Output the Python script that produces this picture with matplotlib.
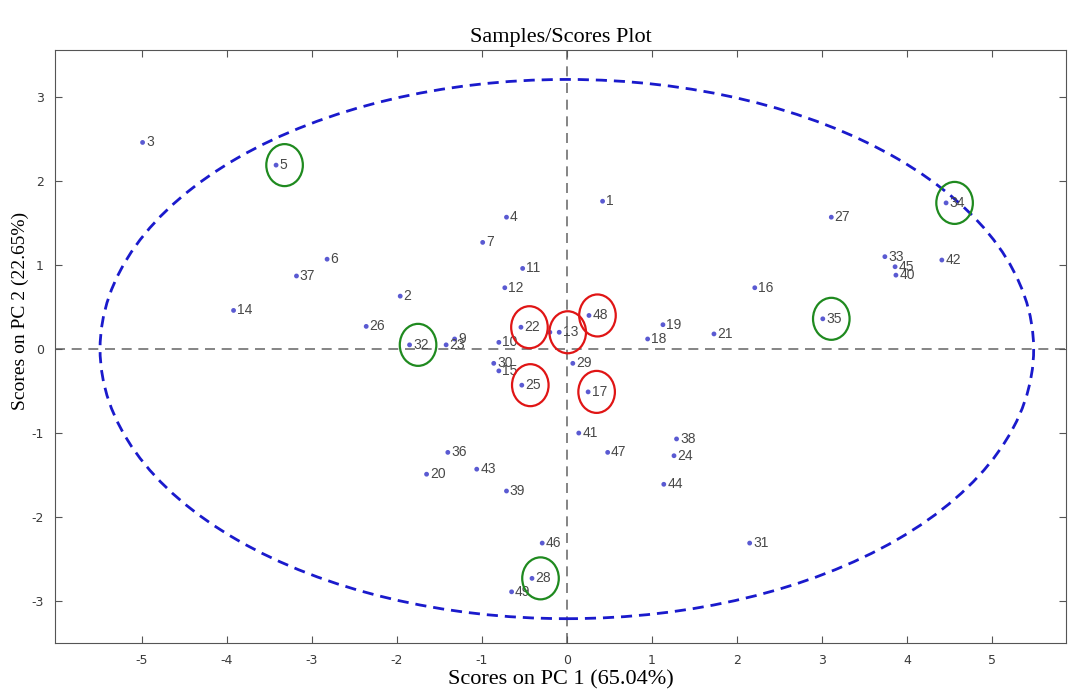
import matplotlib
matplotlib.use("Agg")
import matplotlib.pyplot as plt
from matplotlib.patches import Ellipse
import numpy as np

plt.rcParams['axes.unicode_minus'] = False

# sample ids and their scores on PC1 / PC2
samples = [1, 2, 3, 4, 5, 6, 7, 8, 9, 10,
           11, 12, 13, 14, 15, 16, 17, 18, 19, 20,
           21, 22, 23, 24, 25, 26, 27, 28, 29, 30,
           31, 32, 33, 34, 35, 36, 37, 38, 39, 40,
           41, 42, 43, 44, 45, 46, 47, 48, 49]
pc1 = [0.42, -1.96, -4.99, -0.71, -3.42, -2.82, -0.99, -0.20, -1.32, -0.80,
       -0.52, -0.73, -0.09, -3.92, -0.80, 2.21, 0.25, 0.95, 1.13, -1.65,
       1.73, -0.54, -1.42, 1.26, -0.53, -2.36, 3.11, -0.41, 0.07, -0.86,
       2.15, -1.85, 3.74, 4.46, 3.01, -1.40, -3.18, 1.29, -0.71, 3.87,
       0.14, 4.41, -1.06, 1.14, 3.86, -0.29, 0.48, 0.26, -0.65]
pc2 = [1.76, 0.63, 2.46, 1.57, 2.19, 1.07, 1.27, 0.20, 0.12, 0.08,
       0.96, 0.73, 0.20, 0.46, -0.26, 0.73, -0.51, 0.12, 0.29, -1.49,
       0.18, 0.26, 0.05, -1.27, -0.43, 0.27, 1.57, -2.73, -0.17, -0.17,
       -2.31, 0.05, 1.10, 1.74, 0.36, -1.23, 0.87, -1.07, -1.69, 0.88,
       -1.00, 1.06, -1.43, -1.61, 0.98, -2.31, -1.23, 0.40, -2.89]

hidden_labels = [8]                 # label covered by sample 13
green_marked = [5, 32, 28, 35, 34]
red_marked = [22, 13, 48, 25, 17]

# 95% confidence ellipse semi-axes
ell_a = 5.49
ell_b = 3.21

serif = "Liberation Serif"

fig = plt.figure(figsize=(10.68, 6.96), dpi=100)
ax = fig.add_axes([0.0515, 0.0761, 0.9466, 0.852])

ax.axhline(0, color="#707070", ls=(0, (6, 4)), lw=1.2, zorder=1)
ax.axvline(0, color="#707070", ls=(0, (6, 4)), lw=1.2, zorder=1)

ax.add_patch(Ellipse((0, 0), 2 * ell_a, 2 * ell_b, fill=False,
                     edgecolor="#1a1acc", ls=(0, (4, 2.5)), lw=2.0, zorder=2))

ax.scatter(pc1, pc2, s=12, color="#5a5ad2", edgecolors="none", zorder=3)
for s, x, y in zip(samples, pc1, pc2):
    if s in hidden_labels:
        continue
    ax.text(x + 0.04, y, str(s), fontsize=10, color="#484848",
            va="center", ha="left", family="Liberation Sans", zorder=4)

lookup = dict(zip(samples, zip(pc1, pc2)))
for ids, col in ((green_marked, "#1f8a1f"), (red_marked, "#e01515")):
    for s in ids:
        x, y = lookup[s]
        ax.add_patch(Ellipse((x + 0.1, y), 0.43, 0.5, fill=False,
                             edgecolor=col, lw=1.6, zorder=5))

ax.set_xlim(-6.02, 5.87)
ax.set_ylim(-3.5, 3.56)
ax.set_xticks(np.arange(-5, 6))
ax.set_yticks(np.arange(-3, 4))
ax.tick_params(direction="in", top=True, right=True, length=5, pad=8,
               labelsize=9, labelcolor="#3a3a3a", color="#555555")
for sp in ax.spines.values():
    sp.set_color("#555555")

ax.set_title("Samples/Scores Plot", fontsize=16, family=serif, pad=6)
ax.set_xlabel("Scores on PC 1 (65.04%)", fontsize=16, family=serif, labelpad=2)
ax.set_ylabel("Scores on PC 2 (22.65%)", fontsize=14, family=serif, va="center")
ax.yaxis.set_label_coords(-0.034, 0.56)

fig.savefig("out.png", dpi=100)
